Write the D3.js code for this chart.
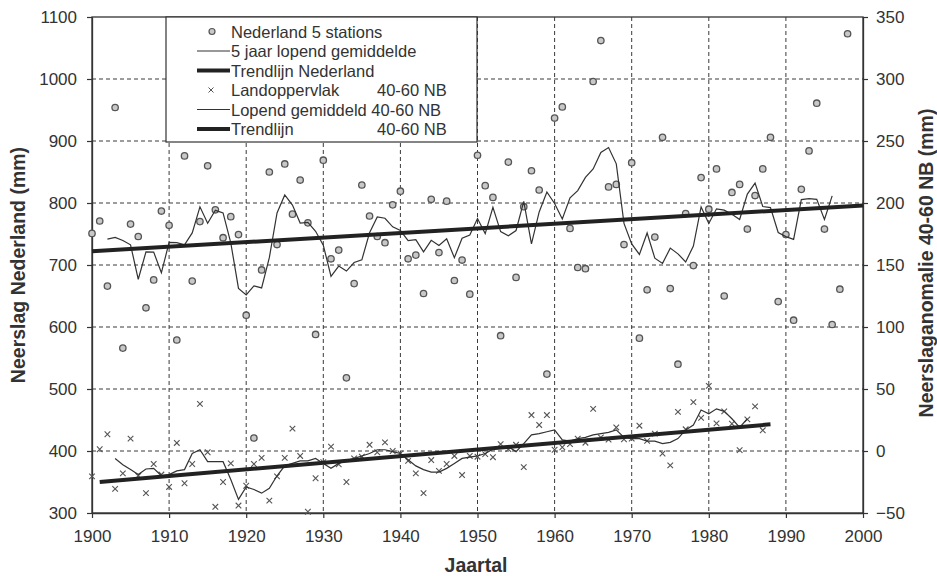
<!DOCTYPE html>
<html><head><meta charset="utf-8">
<script src="https://cdn.jsdelivr.net/npm/d3@7"></script>
<style>
body{margin:0;background:#fff}
svg{display:block}
text{font-family:"Liberation Sans",Arial,Helvetica,sans-serif;fill:#333}
</style>
</head><body>
<svg id="chart" width="937" height="576"></svg>
<script>
// ---- Data ----
const nlStartYear = 1900;
const nlValues = [751,771,666,954,566,766,746,631,676,787,
  764,579,876,674,770,860,789,744,778,749,
  619,421,692,850,733,863,782,837,768,588,
  869,710,724,518,670,829,779,746,736,797,
  819,710,716,654,806,720,803,675,708,653,
  877,828,809,586,866,680,794,852,821,524,
  937,955,759,696,694,996,1062,826,830,733,
  865,582,660,745,906,662,540,783,699,841,
  790,855,650,817,830,758,812,855,906,641,
  749,611,822,884,961,758,604,661,1073];

const nlMeanStartYear = 1902;
const nlMeanValues = [741.6,744.6,739.6,732.6,677.0,721.2,720.8,687.4,
  736.4,736.0,732.6,751.8,793.8,767.4,788.2,784.0,735.8,662.2,
  651.8,666.2,663.0,711.8,784.0,813.0,796.6,767.6,768.8,754.4,
  731.8,681.8,698.2,690.2,704.0,708.4,752.0,777.4,775.4,761.6,
  755.6,739.2,741.0,721.2,739.8,731.6,742.4,711.8,743.2,748.2,
  775.0,750.6,793.2,753.8,747.0,755.6,802.6,734.2,785.6,817.8,
  799.2,774.2,808.2,820.0,841.4,854.8,881.6,889.4,863.2,767.2,
  734.0,717.0,751.6,711.0,702.6,727.2,718.0,705.0,730.6,793.6,
  767.0,790.6,788.4,782.0,773.4,814.4,832.2,794.4,792.6,752.4,
  745.8,741.4,805.4,807.2,805.8,773.6,811.4];

const nlTrendYears = [1900, 2000];
const nlTrendValues = [722, 796];

const landStartYear = 1900;
const landValues = [-20.5,1.4,13.5,-30.5,-18,10,-20,-34,-10.5,-19,
  -29,6.5,-26,-10.5,38,-1,-45,-25,-10,-44,
  -28,-10.5,-5.5,-40,-20.5,-5.5,18,-4,-49,-22,
  -9,3.5,-10.7,-25,-6,-4.6,5,-1,7,0,
  -2,-8,-18,-34,-7.3,-16,-10.5,-4,-19.4,-4,
  -4.6,-2.5,-5,5.5,1.5,5,-13,29,21,29,
  1,3,5.5,10,6.7,34,11,9.2,19,9.5,
  10,20.4,8.2,14,-2,-11.6,31.6,17.5,39.4,26.7,
  52.5,22.3,32,22,0.7,25.5,36,16.7];

const landMeanStartYear = 1903;
const landMeanValues = [-6,-11,-15,-19,-14.5,-14,-20,-19,-16,-15,
  -2,1,-8.6,-8.6,-8.6,-23,-39,-29,-31,-34,
  -30,-20,-12,-10,-8,-8,-6,-10,-14,-10,
  -8,-6,-4,-2,1,1,-0.5,-2,-7,-12,
  -15,-17,-17,-14,-10,-6,-5,-4,-2,1.5,
  3.5,3.5,-0.5,6,13,14,15.5,17,9,8,
  10,11,13,14,15,17,11,10,10,8,
  8,6,7,10,17,21,33,30,34,32,
  26,19,26];

const landTrendYears = [1901, 1988];
const landTrendValues = [-25, 21.5];

const xTicks = [1900,1910,1920,1930,1940,1950,1960,1970,1980,1990,2000];
const leftTicks = [300,400,500,600,700,800,900,1000,1100];
const rightTicks = [-50,0,50,100,150,200,250,300,350];

const legendLabels = ["Nederland 5 stations","5 jaar lopend gemiddelde","Trendlijn Nederland",
  "Landoppervlak","Lopend gemiddeld 40-60 NB","Trendlijn"];
const legendSuffix = ["","","","40-60 NB","","40-60 NB"];

const xTitle = "Jaartal";
const yLeftTitle = "Neerslag Nederland (mm)";
const yRightTitle = "Neerslaganomalie 40-60 NB (mm)";

// ---- Layout ----
const L = 92, R = 863, T = 17, B = 513;
const svg = d3.select("#chart");
const x = d3.scaleLinear().domain([1900, 2000]).range([L, R]);
const yL = d3.scaleLinear().domain([300, 1100]).range([B, T]);
const yR = d3.scaleLinear().domain([-50, 350]).range([B, T]);
const ink = "#333";

// grid
const grid = svg.append("g").attr("stroke", "#3a3a3a").attr("stroke-width", 1).attr("stroke-dasharray", "4,3");
grid.selectAll("line.h").data(leftTicks.filter(v => v > 300 && v < 1100)).enter().append("line")
  .attr("x1", L).attr("x2", R).attr("y1", d => yL(d)).attr("y2", d => yL(d));
grid.selectAll("line.v").data(xTicks.filter(v => v > 1900 && v < 2000)).enter().append("line")
  .attr("y1", T).attr("y2", B).attr("x1", d => x(d)).attr("x2", d => x(d));

// frame
svg.append("rect").attr("x", L).attr("y", T).attr("width", R - L).attr("height", B - T)
  .attr("fill", "none").attr("stroke", ink).attr("stroke-width", 1.3);

// axes
const axL = svg.append("g").attr("transform", `translate(${L},0)`)
  .call(d3.axisLeft(yL).tickValues(leftTicks).tickFormat(d3.format("d")).tickSize(5).tickSizeOuter(0).tickPadding(10));
const axR = svg.append("g").attr("transform", `translate(${R},0)`)
  .call(d3.axisRight(yR).tickValues(rightTicks).tickFormat(d3.format("d")).tickSize(5).tickSizeOuter(0).tickPadding(8));
const axB = svg.append("g").attr("transform", `translate(0,${B})`)
  .call(d3.axisBottom(x).tickValues(xTicks).tickFormat(d3.format("d")).tickSize(5).tickSizeOuter(0).tickPadding(12));
[axL, axR, axB].forEach(a => {
  a.select(".domain").attr("stroke", ink).attr("stroke-width", 1.3);
  a.selectAll(".tick line").attr("stroke", ink).attr("stroke-width", 1.2);
  a.selectAll(".tick text").attr("fill", "#444").style("font-size", "17px")
    .style("font-family", '"Liberation Sans",Arial,sans-serif');
});

// axis titles
svg.append("text").attr("x", 476).attr("y", 572).attr("text-anchor", "middle")
  .style("font-size", "19.5px").style("font-weight", "bold").attr("fill", "#2a2a2a").text(xTitle);
svg.append("text").attr("transform", `translate(25,265) rotate(-90)`).attr("text-anchor", "middle")
  .style("font-size", "19.5px").style("font-weight", "bold").attr("fill", "#2a2a2a").text(yLeftTitle);
svg.append("text").attr("transform", `translate(933,263) rotate(-90)`).attr("text-anchor", "middle")
  .style("font-size", "19.5px").style("font-weight", "bold").attr("fill", "#2a2a2a").text(yRightTitle);

// data: Nederland circles
svg.append("g").selectAll("circle").data(nlValues).enter().append("circle")
  .attr("cx", (d, i) => x(nlStartYear + i)).attr("cy", d => yL(d)).attr("r", 3.2)
  .attr("fill", "#c8c8c8").attr("stroke", "#555").attr("stroke-width", 1.3);

// land crosses
const crossPath = "M-2.8,-2.8L2.8,2.8M-2.8,2.8L2.8,-2.8";
svg.append("g").selectAll("path").data(landValues).enter().append("path")
  .attr("d", crossPath)
  .attr("transform", (d, i) => `translate(${x(landStartYear + i)},${yR(d)})`)
  .attr("stroke", "#555").attr("stroke-width", 1.1).attr("fill", "none");

// running means
const lineL = d3.line().x(d => x(d[0])).y(d => yL(d[1]));
const lineR = d3.line().x(d => x(d[0])).y(d => yR(d[1]));
svg.append("path").attr("d", lineL(nlMeanValues.map((v, i) => [nlMeanStartYear + i, v])))
  .attr("fill", "none").attr("stroke", "#333").attr("stroke-width", 1.2);
svg.append("path").attr("d", lineR(landMeanValues.map((v, i) => [landMeanStartYear + i, v])))
  .attr("fill", "none").attr("stroke", "#333").attr("stroke-width", 1.2);

// trend lines
svg.append("path").attr("d", lineL(nlTrendYears.map((yr, i) => [yr, nlTrendValues[i]])))
  .attr("fill", "none").attr("stroke", "#222").attr("stroke-width", 4);
svg.append("path").attr("d", lineR(landTrendYears.map((yr, i) => [yr, landTrendValues[i]])))
  .attr("fill", "none").attr("stroke", "#222").attr("stroke-width", 4);

// legend
const lg = svg.append("g");
lg.append("rect").attr("x", 166).attr("y", T).attr("width", 311).attr("height", 125)
  .attr("fill", "#fff").attr("stroke", ink).attr("stroke-width", 1.2);
const rowY = i => 31.5 + i * 19.5;
legendLabels.forEach((lab, i) => {
  const cy = rowY(i);
  if (i === 0) {
    lg.append("circle").attr("cx", 212).attr("cy", cy).attr("r", 3)
      .attr("fill", "#c8c8c8").attr("stroke", "#555").attr("stroke-width", 1.2);
  } else if (i === 3) {
    lg.append("path").attr("d", "M-2.5,-2.5L2.5,2.5M-2.5,2.5L2.5,-2.5")
      .attr("transform", `translate(211,${cy})`).attr("stroke", "#555").attr("stroke-width", 1);
  } else {
    const thick = (i === 2 || i === 5);
    lg.append("line").attr("x1", 197).attr("x2", 230).attr("y1", cy).attr("y2", cy)
      .attr("stroke", thick ? "#222" : "#333").attr("stroke-width", thick ? 4 : 1.2);
  }
  lg.append("text").attr("x", 231).attr("y", cy + 6).style("font-size", "16.5px").attr("fill", "#333").text(lab);
  if (legendSuffix[i]) {
    lg.append("text").attr("x", 377).attr("y", cy + 6).style("font-size", "16.5px").attr("fill", "#333").text(legendSuffix[i]);
  }
});
</script>
</body></html>
